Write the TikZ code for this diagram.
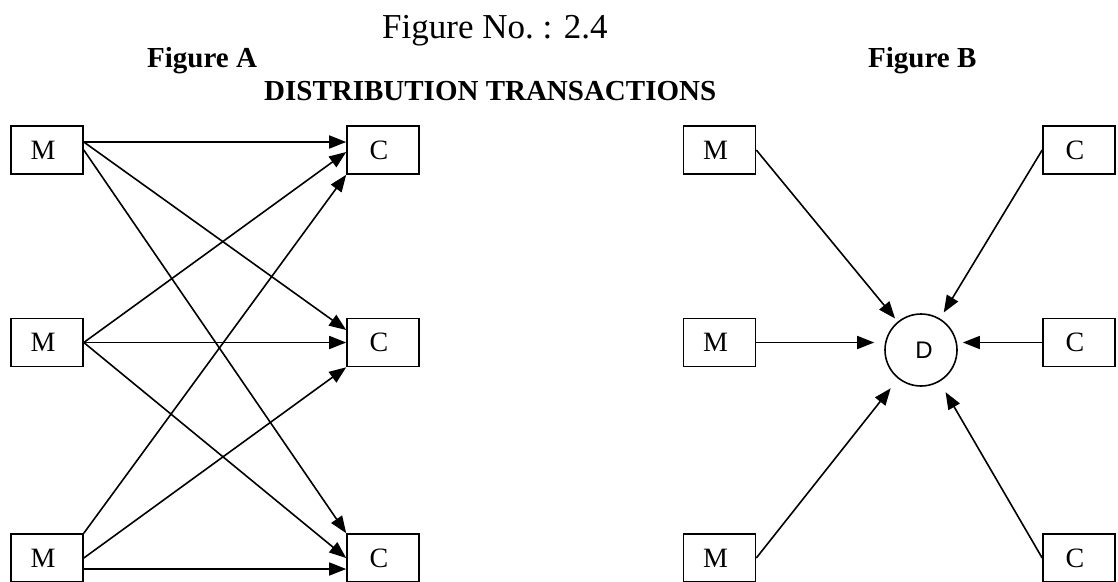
\documentclass[tikz,border=0pt]{standalone}
\usepackage{fontspec}
\setmainfont{Liberation Serif}
\newfontfamily\labelsans{Liberation Sans}
\usetikzlibrary{arrows.meta}
\begin{document}
\begin{tikzpicture}[x=1pt,y=-1pt,
  box/.style={draw,line width=1.6pt,minimum width=72pt,minimum height=48pt,inner sep=0pt,
    font=\fontsize{28}{30}\selectfont,execute at begin node={\hspace*{-8pt}}},
  hub/.style={draw,circle,line width=1.6pt,minimum size=72pt,inner sep=0pt,
    font=\labelsans\fontsize{24}{26}\selectfont,execute at begin node={\hspace*{6pt}}},
  link/.style={line width=1.6pt,-{Triangle[length=17pt,width=13pt]}},
  heading/.style={inner sep=0pt,anchor=base west},
  boldhead/.style={heading,font=\bfseries\fontsize{29}{31}\selectfont}]
\useasboundingbox (0,0) rectangle (1118,581);

% titles
\node[heading,font=\fontsize{35}{40}\selectfont] (title) at (382,38) {Figure No.\ : 2.4};
\node[boldhead] (figa) at (147,67) {Figure A};
\node[boldhead] (figb) at (868,67) {Figure B};
\node[boldhead] (dist) at (264,100) {DISTRIBUTION TRANSACTIONS};

% Figure A: every manufacturer to every customer
\node[box] (ma1) at (47,150) {M};
\node[box] (ma2) at (47,342.5) {M};
\node[box] (ma3) at (47,558) {M};
\node[box] (ca1) at (383,150) {C};
\node[box] (ca2) at (383,342.5) {C};
\node[box] (ca3) at (383,558) {C};

\draw[link] ([yshift=8pt]ma1.east) -- ([yshift=8pt]ca1.west);
\draw[link] ([yshift=8pt]ma1.east) -- ([yshift=12.5pt]ca2.west);
\draw[link] (ma1.east) -- (ca3.north west);

\draw[link] (ma2.east) -- ([yshift=-2pt]ca1.west);
\draw[link] (ma2.east) -- (ca2.west);
\draw[link] (ma2.east) -- (ca3.west);

\draw[link] (ma3.north east) -- (ca1.south west);
\draw[link] (ma3.east) -- (ca2.south west);
\draw[link] ([yshift=-11pt]ma3.east) -- ([yshift=-11pt]ca3.west);

% Figure B: all flows through the distributor
\node[box] (mb1) at (719.5,150) {M};
\node[box] (mb2) at (719.5,342.5) {M};
\node[box] (mb3) at (719.5,558) {M};
\node[box] (cb1) at (1079,150) {C};
\node[box] (cb2) at (1079,342.5) {C};
\node[box] (cb3) at (1079,558) {C};
\node[hub] (d) at (921,350) {D};

\draw[link,shorten >=4pt] (mb1.east) -- (d);
\draw[link,shorten >=7pt] (cb1.west) -- (d);
\draw[link,shorten >=10pt] (mb2.east) -- (mb2.east -| d.west);
\draw[link,shorten >=5pt] (cb2.west) -- (cb2.west -| d.east);
\draw[link,shorten >=12pt] (mb3.east) -- (d);
\draw[link,shorten >=12pt] (cb3.west) -- (d);
\end{tikzpicture}
\end{document}
